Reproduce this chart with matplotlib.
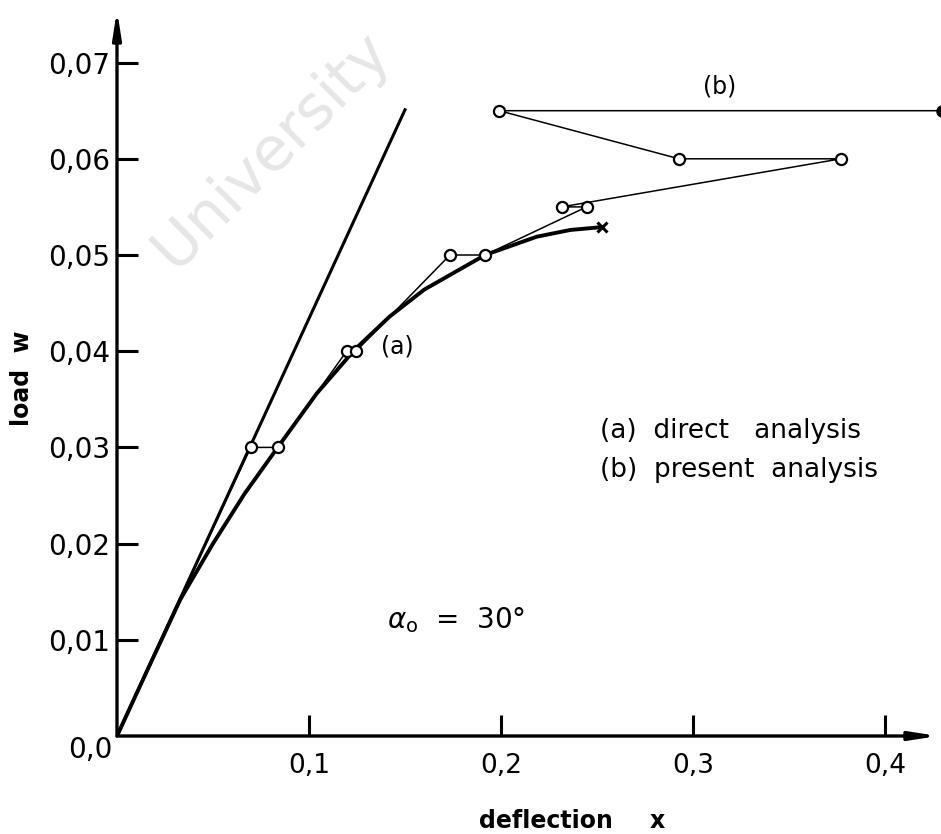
import matplotlib
matplotlib.use('Agg')
import matplotlib.pyplot as plt

# initial tangent (linear solution)
tangent_x = [0.0, 0.150]
tangent_w = [0.0, 0.0651]

# (a) direct analysis - thick curve, ends with a cross
direct_x = [0.0, 0.015, 0.033, 0.050, 0.0665, 0.0837, 0.104, 0.124, 0.142, 0.160,
            0.1917, 0.2186, 0.236, 0.2524]
direct_w = [0.0, 0.0065, 0.0142, 0.0200, 0.0252, 0.0300, 0.0356, 0.0402, 0.0436, 0.0464,
            0.0500, 0.0519, 0.0526, 0.0529]

# (b) present analysis - iteration path with circles
present_x = [0.0, 0.0696, 0.0837, 0.1196, 0.1245, 0.1734, 0.1917, 0.2446, 0.2316,
             0.377, 0.2927, 0.1991, 0.4295]
present_w = [0.0, 0.030, 0.030, 0.040, 0.040, 0.050, 0.050, 0.055, 0.055,
             0.060, 0.060, 0.065, 0.065]

yticks = [0.01, 0.02, 0.03, 0.04, 0.05, 0.06, 0.07]
ytick_labels = ['0,01', '0,02', '0,03', '0,04', '0,05', '0,06', '0,07']
xticks = [0.1, 0.2, 0.3, 0.4]
xtick_labels = ['0,1', '0,2', '0,3', '0,4']

W, H = 941, 834
fig = plt.figure(figsize=(W / 100, H / 100), dpi=100)
ax = fig.add_axes([117 / W, (H - 736) / H, (938 - 117) / W, (736 - 10) / H])
ax.set_xlim(0, (938 - 117) / 1920)
ax.set_ylim(0, (736 - 10) / 9620)

# watermark
fig.text(272 / W, 1 - 150 / H, 'University', rotation=45, fontsize=44,
         color='#e6e6e6', ha='center', va='center', zorder=0)

for s in ax.spines.values():
    s.set_visible(False)
ax.patch.set_visible(False)

# axes with arrows
ax.annotate('', xy=(1, 0), xytext=(0, 0), xycoords='axes fraction',
            arrowprops=dict(arrowstyle='-|>,head_length=1.6,head_width=0.25',
                            lw=2.4, color='black', shrinkA=0, shrinkB=0))
ax.annotate('', xy=(0, 1), xytext=(0, 0), xycoords='axes fraction',
            arrowprops=dict(arrowstyle='-|>,head_length=1.6,head_width=0.25',
                            lw=2.4, color='black', shrinkA=0, shrinkB=0))

ax.set_xticks(xticks)
ax.set_xticklabels(xtick_labels)
ax.set_yticks(yticks)
ax.set_yticklabels(ytick_labels)
ax.tick_params(axis='both', direction='in', length=15, width=2.2, labelsize=20)
ax.tick_params(axis='x', pad=12, labelsize=19)
ax.tick_params(axis='y', pad=5)
ax.annotate('0,0', xy=(0, 0), xytext=(-19, -10), textcoords='offset points',
            ha='center', va='center', fontsize=20)

ax.plot(tangent_x, tangent_w, color='black', lw=2.2)
ax.plot(direct_x, direct_w, color='black', lw=2.8, solid_capstyle='round')
ax.plot(direct_x[-1], direct_w[-1], marker='x', color='black', ms=7, mew=2.2)
ax.plot(present_x, present_w, color='black', lw=1.1, clip_on=False, zorder=2)
ax.plot(present_x[1:-1], present_w[1:-1], ls='none', marker='o', ms=8,
        mfc='white', mec='black', mew=1.6, zorder=3)
ax.plot(present_x[-1], present_w[-1], marker='o', ms=8, mfc='black', mec='black',
        clip_on=False, zorder=3)

ax.text(0.314, 0.0675, '(b)', fontsize=17, ha='center', va='center')
ax.text(0.146, 0.0405, '(a)', fontsize=17, ha='center', va='center')
ax.text(0.2515, 0.0317, '(a)  direct   analysis', fontsize=19, ha='left', va='center')
ax.text(0.2515, 0.0277, '(b)  present  analysis', fontsize=19, ha='left', va='center')
ax.text(0.1405, 0.0120, r'$\alpha_\mathrm{o}$  =  30°', fontsize=20, ha='left', va='center')

fig.text(546 / W, 1 - 821 / H, 'deflection', fontsize=17, fontweight='bold',
         ha='center', va='center')
fig.text(657 / W, 1 - 821 / H, 'x', fontsize=17, fontweight='bold',
         ha='center', va='center')
fig.text(22 / W, 1 - 378 / H, 'load  w', fontsize=17, fontweight='bold',
         rotation=90, ha='center', va='center')

fig.savefig('out.png', dpi=100)
